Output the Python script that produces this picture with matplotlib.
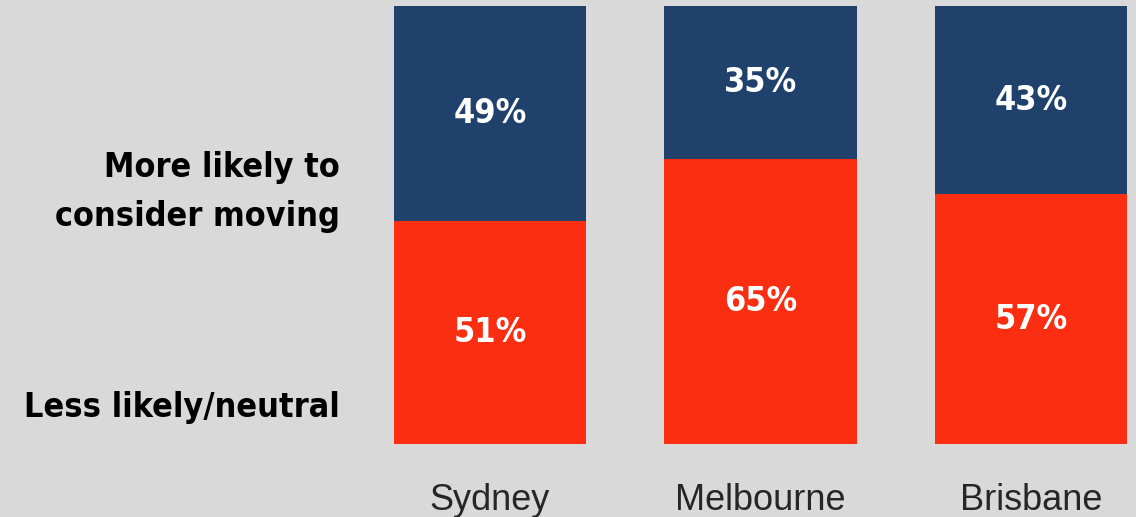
import matplotlib.pyplot as plt
import numpy as np

cities = ['Sydney', 'Melbourne', 'Brisbane']
less_likely = [51, 65, 57]
more_likely = [49, 35, 43]

navy = '#1f416b'
red = '#fb2e12'
bg = '#d9d9d9'
cond = dict(family='DejaVu Sans', fontstretch='condensed')

fig = plt.figure(figsize=(11.36, 5.17), dpi=100, facecolor=bg)
ax = fig.add_axes([0.3468, 0.1412, 0.6452, 0.8472])
ax.set_facecolor(bg)

x = np.arange(len(cities))
w = 0.711
ax.bar(x, less_likely, w, color=red)
ax.bar(x, more_likely, w, bottom=less_likely, color=navy)

for i in range(len(cities)):
    ax.text(x[i], less_likely[i] / 2, f'{less_likely[i]}%', ha='center', va='center',
            color='white', fontsize=24.5, fontweight='bold', **cond)
    ax.text(x[i], less_likely[i] + more_likely[i] / 2, f'{more_likely[i]}%', ha='center',
            va='center', color='white', fontsize=24.5, fontweight='bold', **cond)
    ax.text(x[i], -12.8, cities[i], ha='center', va='center', color='#262626',
            fontsize=26, family='Liberation Sans')

tr = ax.get_yaxis_transform()
ax.text(-0.074, 57.6, 'More likely to\nconsider moving', transform=tr, ha='right', va='center',
        fontsize=24.5, fontweight='bold', linespacing=1.6, **cond)
ax.text(-0.074, 8.4, 'Less likely/neutral', transform=tr, ha='right', va='center',
        fontsize=24.5, fontweight='bold', **cond)

ax.set_xlim(-0.3555, 2.3555)
ax.set_ylim(0, 100)
ax.axis('off')

fig.savefig('out.png', dpi=100, facecolor=bg)
